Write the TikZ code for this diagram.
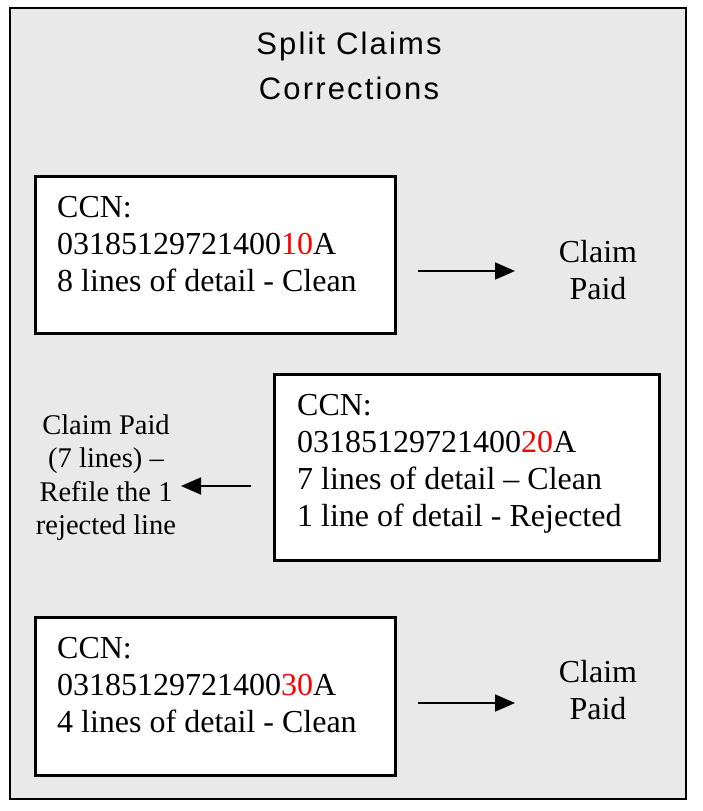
\documentclass[tikz,border=0pt]{standalone}
\usepackage{fontspec}
\setmainfont{Liberation Serif}
\newfontfamily\titlefont[LetterSpace=7]{Liberation Sans}
\usetikzlibrary{arrows.meta}
\definecolor{panelgray}{HTML}{E9E9E9}
\definecolor{ccnred}{HTML}{FF0000}
\begin{document}
\begin{tikzpicture}[x=1pt,y=-1pt,
  panel/.style={draw=black, line width=1.5pt, fill=panelgray, minimum width=676pt, minimum height=791pt, inner sep=0pt},
  claimbox/.style={draw=black, line width=3pt, fill=white, inner sep=0pt},
  boxtext/.style={anchor=north west, align=left, inner sep=0pt, font=\fontsize{32}{37}\selectfont},
  sidetext/.style={anchor=north, align=center, inner sep=0pt, font=\fontsize{32}{37}\selectfont},
  lefttext/.style={anchor=north, align=center, inner sep=0pt, font=\fontsize{28.5}{33.5}\selectfont},
  titletext/.style={anchor=north, align=center, inner sep=0pt, font=\titlefont\fontsize{31}{45}\selectfont},
  flow/.style={-{Triangle[length=20pt,width=17pt]}, line width=1.8pt}]
\useasboundingbox (0,0) rectangle (702,811);
\node[panel] (panel) at (348,403.5) {};
\node[titletext] (title) at (349,32) {Split Claims\\Corrections};

\node[claimbox, minimum width=360pt, minimum height=157pt] (b1) at (215,254.5) {};
\node[boxtext] (t1) at (57,196) {CCN:\\03185129721400\textcolor{ccnred}{10}A\\8 lines of detail - Clean};
\node[sidetext] (p1) at (598,240) {Claim\\Paid};
\coordinate (a1s) at (418,271);
\coordinate (a1e) at (515,271);
\draw[flow] (a1s) -- (a1e);

\node[claimbox, minimum width=385pt, minimum height=186pt] (b2) at (466.5,467) {};
\node[boxtext] (t2) at (297,394) {CCN:\\03185129721400\textcolor{ccnred}{20}A\\7 lines of detail – Clean\\1 line of detail - Rejected};
\node[lefttext] (p2) at (106,414.5) {Claim Paid\\(7 lines) –\\Refile the 1\\rejected line};
\coordinate (a2s) at (251,486);
\coordinate (a2e) at (181,486);
\draw[flow] (a2s) -- (a2e);

\node[claimbox, minimum width=360pt, minimum height=158pt] (b3) at (215,696) {};
\node[boxtext] (t3) at (57,637) {CCN:\\03185129721400\textcolor{ccnred}{30}A\\4 lines of detail - Clean};
\node[sidetext] (p3) at (598,660) {Claim\\Paid};
\coordinate (a3s) at (418,703);
\coordinate (a3e) at (515,703);
\draw[flow] (a3s) -- (a3e);
\end{tikzpicture}
\end{document}
